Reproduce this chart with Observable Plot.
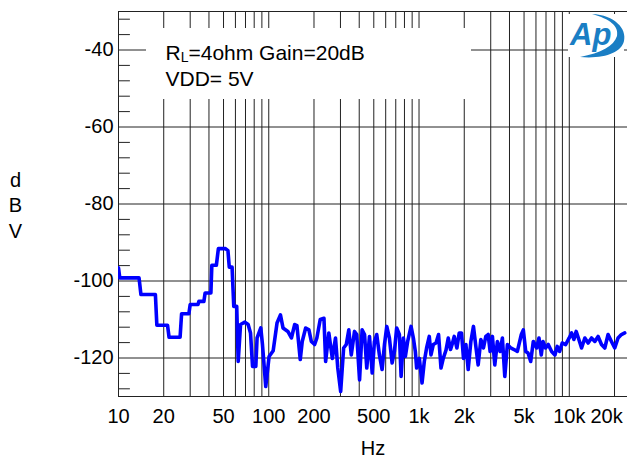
<!DOCTYPE html>
<html>
<head>
<meta charset="utf-8">
<script src="https://cdn.jsdelivr.net/npm/d3@7"></script>
<script src="https://cdn.jsdelivr.net/npm/@observablehq/plot@0.6"></script>
<style>
  html, body { margin: 0; padding: 0; background: #fff; }
</style>
</head>
<body>
<div id="chart"></div>
<script>
// ---- Data ----
const freqHz = [
  10, 10.2, 13.7, 14.1, 17.6, 18.0, 21.2, 21.7, 25.7, 26.3, 29.4, 30.0, 33.8, 34.3, 37.0, 37.7, 41.2, 41.8, 44.8, 46.2,
  51.5, 53.5, 54.6, 57.0, 58.5, 61.2, 62.6,
  64.9, 69.3, 72.9, 75.6, 78.0, 82.0, 83.6, 88.5, 90.8, 95.5, 100.5,
  107, 113.5, 119.6, 124.4, 134, 141.5, 148.8, 154, 162, 167, 176, 185, 192, 202, 209, 220, 233, 239, 251, 265,
  278, 288, 301, 315, 328, 341, 354, 372, 385, 402, 418, 434, 449, 468, 488, 505, 523, 545, 568, 589,
  610, 635, 662, 686, 710, 740, 760, 787, 811, 840, 885, 917, 945, 964,
  1005, 1047, 1084, 1123, 1170, 1201, 1244, 1297, 1349, 1400, 1450, 1511, 1565, 1621, 1671, 1715, 1787, 1851, 1917, 1977,
  2051, 2124, 2213, 2303, 2389, 2475, 2579, 2684, 2783, 2884, 2973, 3079, 3193, 3323, 3463, 3587, 3722, 3873, 4079, 4290,
  4511, 4795, 4944, 5129, 5313, 5536, 5761, 6067, 6285, 6509, 6680, 6962, 7244, 7631, 8025, 8313, 8622, 8973, 9450,
  9990, 10360, 10730, 11110, 11580, 12070, 12690, 13350, 14060, 14790, 15550, 16380, 17230, 18120, 19080, 20070, 21110, 22230, 23390
];
const levelDbv = [
  -96.6, -99.2, -99.2, -103.5, -103.5, -111.5, -111.5, -114.6, -114.6, -108.5, -108.5, -106.1, -106.1, -105.3, -105.3, -103.1, -103.1, -95.9, -95.9, -91.6,
  -91.6, -92.1, -96.4, -96.4, -106.6, -106.6, -120.9,
  -111.3, -110.7, -111.3, -113.5, -122.2, -122.2, -114.8, -112.2, -116.5, -127.4, -119.6,
  -118.1, -110.9, -108.8, -112.2, -113.1, -114.8, -111.3, -111.6, -120.4, -115.7, -112.2, -112.7, -115.7, -116.5, -114.8, -110.0, -109.7, -120.9, -113.5, -120.1,
  -114.8, -122.6, -128.7, -117.4, -116.5, -112.7, -119.2, -113.1, -113.9, -125.7, -112.7, -113.9, -122.6, -114.4, -123.9, -115.7, -113.9, -119.2, -123.0, -116.5,
  -111.8, -114.8, -121.3, -118.3, -112.2, -113.9, -124.8, -114.8, -119.6, -115.7, -111.8, -114.8, -118.3, -122.6,
  -120.1, -126.5, -120.9, -117.4, -114.4, -119.2, -116.5, -116.1, -113.9, -122.6, -120.1, -118.0, -114.8, -117.8, -116.1, -114.4, -117.4, -113.5, -113.5, -120.1,
  -116.5, -123.0, -115.7, -111.8, -117.0, -121.8, -115.2, -117.4, -114.4, -113.9, -118.3, -114.4, -121.8, -115.7, -118.3, -114.8, -124.8, -116.5, -117.4, -117.8,
  -118.3, -113.9, -112.7, -118.3, -118.7, -120.9, -115.7, -117.4, -114.8, -119.2, -115.7, -117.4, -116.5, -118.3, -119.2, -117.0, -118.3, -116.1, -116.5,
  -114.8, -113.5, -115.2, -113.1, -115.2, -117.4, -114.8, -116.1, -114.8, -115.7, -114.4, -116.5, -117.4, -113.9, -115.7, -117.4, -114.8, -113.9, -113.5
];
const xTickValues = [10, 20, 50, 100, 200, 500, 1000, 2000, 5000, 10000, 20000];
const xTickLabels = ["10", "20", "50", "100", "200", "500", "1k", "2k", "5k", "10k", "20k"];
const xGridValues = [20, 30, 40, 50, 60, 70, 80, 90, 100, 200, 300, 400, 500, 600, 700, 800, 900,
  1000, 2000, 3000, 4000, 5000, 6000, 7000, 8000, 9000, 10000, 20000];
const yMajor = [-40, -60, -80, -100, -120];
const yMinor = [-32, -36, -44, -48, -52, -56, -64, -68, -72, -76, -84, -88, -92, -96, -104, -108, -112, -116, -124, -128];
const xDomain = [10, 24400];
const yDomain = [-130, -30];

const data = freqHz.map((f, i) => ({f, v: levelDbv[i]}));
const xTicks = xTickValues.map((v, i) => ({v, label: xTickLabels[i]}));
const xTicksInner = xTicks.slice(0, -1);
const xTickLast = xTicks.slice(-1);

const tickShape = {draw(ctx, l) { ctx.moveTo(0, 0); ctx.lineTo(0, -l); }};

const chart = Plot.plot({
  width: 627,
  height: 459,
  marginLeft: 118,
  marginRight: 0,
  marginTop: 11,
  marginBottom: 63,
  style: {fontFamily: "'Liberation Sans', Arial, sans-serif", background: "#fff", color: "#000"},
  x: {type: "log", domain: xDomain, axis: null},
  y: {domain: yDomain},
  marks: [
    Plot.ruleX(xGridValues, {stroke: "#222", strokeWidth: 1}),
    Plot.ruleY(yMajor, {stroke: "#222", strokeWidth: 1}),
    Plot.vector(yMinor, {y: d => d, frameAnchor: "left", length: 11, rotate: 90, anchor: "start", shape: tickShape, stroke: "#222", strokeWidth: 1}),
    Plot.frame({stroke: "#222", strokeWidth: 1}),
    Plot.axisY({ticks: yMajor, tickSize: 0, tickPadding: 5, fontSize: 20, label: null, tickFormat: d => String(d)}),
    Plot.text(xTicksInner, {x: "v", text: "label", frameAnchor: "bottom", dy: 20, fontSize: 20, lineAnchor: "middle"}),
    Plot.text(xTickLast, {x: "v", text: "label", frameAnchor: "bottom", dy: 20, dx: -8, fontSize: 20, lineAnchor: "middle"}),
    Plot.text(["Hz"], {frameAnchor: "bottom", dy: 52, fontSize: 20, lineAnchor: "middle"}),
    Plot.text(["d\nB\nV"], {frameAnchor: "left", dx: -103, fontSize: 20, lineHeight: 1.28, lineAnchor: "middle", textAnchor: "middle"}),
    Plot.line(data, {x: "f", y: "v", stroke: "#0000ff", strokeWidth: 3.6, strokeLinejoin: "round", clip: true})
  ]
});

document.getElementById("chart").appendChild(chart);

// ---- Legend box and logo (decorations) ----
const svg = d3.select(chart);
const leg = svg.append("g").attr("text-anchor", "start");
leg.append("rect").attr("x", 146).attr("y", 28).attr("width", 325).attr("height", 71).attr("fill", "#fff");
const t1 = leg.append("text").attr("x", 165.5).attr("y", 60).attr("font-size", 21).attr("fill", "#000");
t1.append("tspan").text("R");
t1.append("tspan").attr("font-size", 14).attr("dy", 2).text("L");
t1.append("tspan").attr("dy", -2).text("=4ohm Gain=20dB");
leg.append("text").attr("x", 165.5).attr("y", 86).attr("font-size", 21).attr("fill", "#000").text("VDD= 5V");

const logo = svg.append("g").attr("text-anchor", "start");
logo.append("rect").attr("x", 568).attr("y", 14).attr("width", 56).attr("height", 43).attr("fill", "#fff");
logo.append("path")
  .attr("d", "M592,14 C615,15 627,29 624,41 C621,53 604,59 580,57 C601,53 614,46 617,36 C619,26 610,19 592,14 Z")
  .attr("fill", "#1a7ec4");
logo.append("text").attr("x", 570).attr("y", 45).attr("font-size", 31).attr("font-style", "italic")
  .attr("font-weight", "bold").attr("fill", "#1a7ec4").text("Ap");
</script>
</body>
</html>
